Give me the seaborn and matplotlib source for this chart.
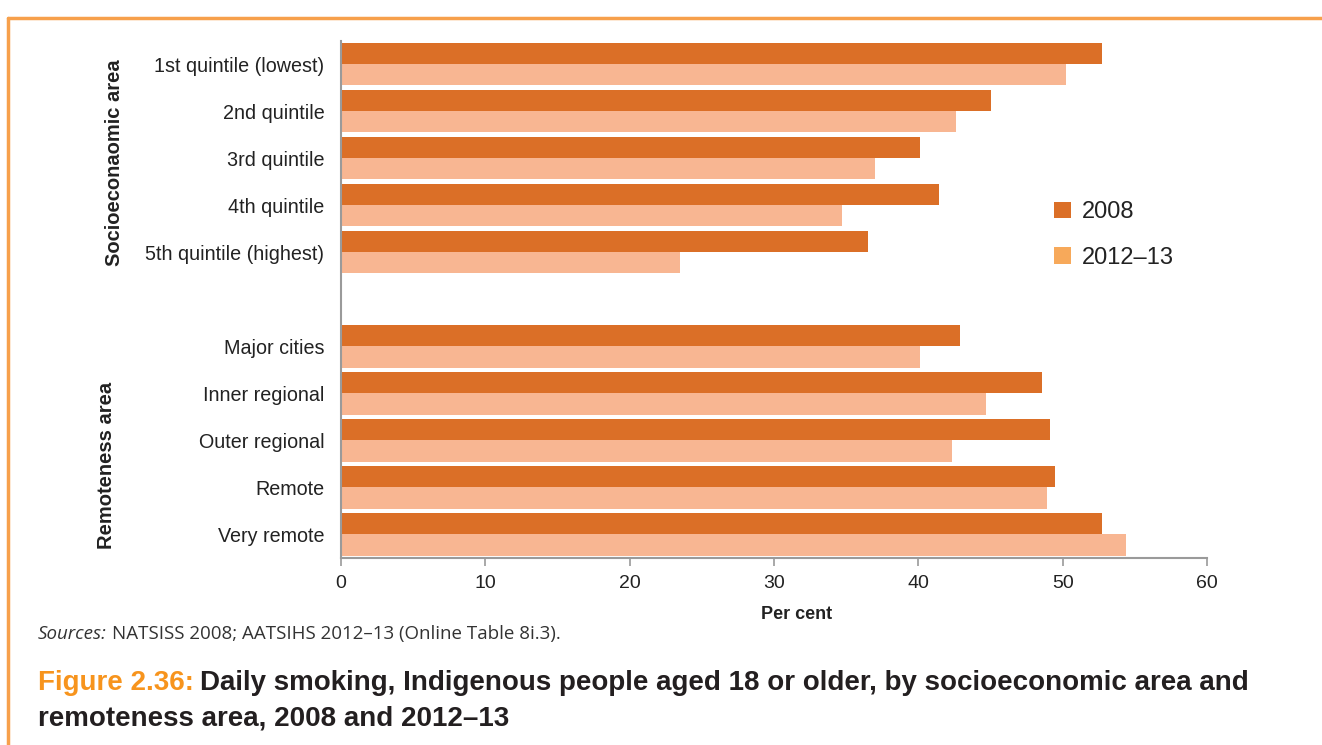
import pandas as pd
import seaborn as sns
import matplotlib.pyplot as plt
from matplotlib.patches import Patch
from matplotlib.lines import Line2D

# categories (blank slot separates the two groups)
socio_areas = ["1st quintile (lowest)", "2nd quintile", "3rd quintile",
               "4th quintile", "5th quintile (highest)"]
remote_areas = ["Major cities", "Inner regional", "Outer regional",
                "Remote", "Very remote"]
years = ["2008", "2012–13"]

# per cent smoking daily
socio_2008 = [52.7, 45.0, 40.1, 41.4, 36.5]
socio_2012 = [50.2, 42.6, 37.0, 34.7, 23.5]
remote_2008 = [42.9, 48.6, 49.1, 49.5, 52.7]
remote_2012 = [40.1, 44.7, 42.3, 48.9, 54.4]

x_ticks = [0, 10, 20, 30, 40, 50, 60]

dark = "#DB6F27"
light = "#F8B692"
legend_light = "#F7A95A"
border = "#F7A04B"
axis_grey = "#9A9A9A"

rows = []
for cats, v08, v12 in [(socio_areas, socio_2008, socio_2012),
                       (remote_areas, remote_2008, remote_2012)]:
    for c, a, b in zip(cats, v08, v12):
        rows.append({"area": c, "year": years[0], "value": a})
        rows.append({"area": c, "year": years[1], "value": b})
df = pd.DataFrame(rows)
order = socio_areas + [" "] + remote_areas

sns.set_style("white")
plt.rcParams["font.family"] = ["Liberation Sans", "DejaVu Sans"]

W, H = 1322, 745
fig = plt.figure(figsize=(W / 100, H / 100), dpi=100)
ax = fig.add_axes([341 / W, 1 - 558 / H, 866 / W, 517.3 / H])

sns.barplot(data=df, y="area", x="value", hue="year", order=order,
            hue_order=years, palette=[dark, light], width=0.9,
            saturation=1, orient="h", ax=ax, legend=False, linewidth=0)

ax.set_xlim(0, 60)
ax.set_ylim(10.5, -0.5)
ax.set_xticks(x_ticks)
ax.set_xticklabels([str(t) for t in x_ticks], fontsize=14, color="#222222")
ax.tick_params(axis="x", length=6, width=1.2, color=axis_grey, pad=6,
               bottom=True)
ax.tick_params(axis="y", length=0, labelsize=14.2, labelcolor="#222222", pad=12)
ax.set_ylabel("")
ax.set_xlabel("Per cent", fontsize=13, fontweight="bold", color="#222222")
ax.xaxis.set_label_coords((797 - 341) / 866, -0.092)
for s in ["top", "right"]:
    ax.spines[s].set_visible(False)
for s in ["left", "bottom"]:
    ax.spines[s].set_color(axis_grey)
    ax.spines[s].set_linewidth(1.5)

# group labels
fig.text(115 / W, 1 - 163 / H, "Socioeconaomic area", rotation=90,
         ha="center", va="center", fontsize=14.5, fontweight="bold",
         color="#222222")
fig.text(107 / W, 1 - 465 / H, "Remoteness area", rotation=90,
         ha="center", va="center", fontsize=14.5, fontweight="bold",
         color="#222222")

# legend
handles = [Patch(facecolor=dark, edgecolor="none"),
           Patch(facecolor=legend_light, edgecolor="none")]
fig.legend(handles, years, loc="upper left",
           bbox_to_anchor=(1033 / W, 1 - 180 / H), frameon=False,
           fontsize=17, handlelength=0.72, handleheight=0.72,
           handletextpad=0.45, labelspacing=1.0, labelcolor="#222222")

# source line: italic lead-in, rest placed right after it
src_font = ["Open Sans", "DejaVu Sans"]
lead = fig.text(38 / W, 1 - 634 / H, "Sources:", fontsize=13.5, style="italic",
                family=src_font, color="#333333", va="center")
fig.canvas.draw()
lead_end = lead.get_window_extent().x1 / W
fig.text(lead_end + 5 / W, 1 - 634 / H,
         "NATSISS 2008; AATSIHS 2012–13 (Online Table 8i.3).",
         fontsize=13.5, family=src_font, color="#333333", va="center")

# title
fig.text(38 / W, 1 - 683 / H, "Figure 2.36:", fontsize=20, fontweight="bold",
         color="#F7941D", va="center")
fig.text(200 / W, 1 - 683 / H,
         "Daily smoking, Indigenous people aged 18 or older, by socioeconomic area and",
         fontsize=20, fontweight="bold", color="#231F20", va="center")
fig.text(38 / W, 1 - 718 / H, "remoteness area, 2008 and 2012–13",
         fontsize=20, fontweight="bold", color="#231F20", va="center")

# orange frame
fig.add_artist(Line2D([8 / W, 1], [1 - 18 / H, 1 - 18 / H], color=border,
                      lw=2.5, transform=fig.transFigure))
fig.add_artist(Line2D([8 / W, 8 / W], [1 - 18 / H, 0], color=border,
                      lw=2.5, transform=fig.transFigure))

fig.savefig("out.png", dpi=100)
